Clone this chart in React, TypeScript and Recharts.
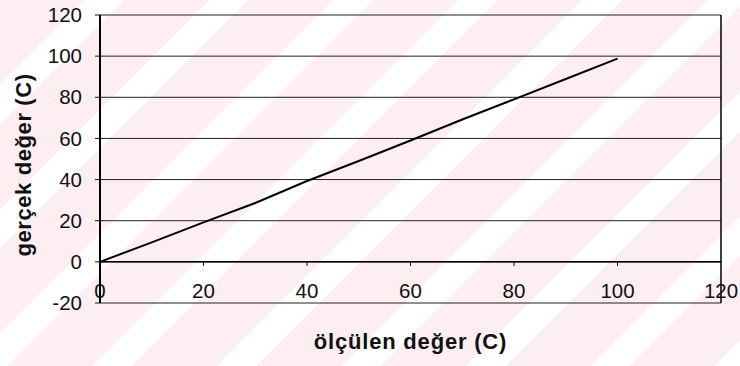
import React from "react";
import { LineChart, Line, XAxis, YAxis, CartesianGrid, ReferenceLine } from "recharts";

const measured = [0, 10, 20, 30, 40, 50, 60, 70, 80, 90, 100];
const actual = [0, 9.5, 19.2, 28.6, 39.3, 49, 59, 69.2, 79, 88.9, 98.8];
const xTicks = [0, 20, 40, 60, 80, 100, 120];
const yTicks = [-20, 0, 20, 40, 60, 80, 100, 120];
const xTitle = "ölçülen değer (C)";
const yTitle = "gerçek değer (C)";

const data = measured.map((m, i) => ({ m, a: actual[i] }));

const FONT = "'Liberation Sans', Arial, sans-serif";
const TICK_SIZE = 20.5;

const XTick = (props: any) => {
  const { x, y, payload } = props;
  return (
    <g>
      {payload.value > 0 && payload.value < 120 ? (
        <line x1={x} x2={x} y1={y - 41} y2={y - 37} stroke="#111" strokeWidth={1} />
      ) : null}
      <text x={x} y={y - 12} dy="0.35em" textAnchor="middle" fontSize={TICK_SIZE} fontFamily={FONT} fill="#111">
        {payload.value}
      </text>
    </g>
  );
};

const YTick = (props: any) => {
  const { x, y, payload } = props;
  return (
    <text x={x} y={y} dy="0.35em" textAnchor="end" fontSize={TICK_SIZE} fontFamily={FONT} fill="#111">
      {payload.value}
    </text>
  );
};

const XTitle = (props: any) => {
  const vb = props.viewBox;
  return (
    <text x={vb.x + vb.width / 2} y={vb.y + 38} dy="0.35em" textAnchor="middle" fontSize={22} fontWeight="bold" fontFamily={FONT} fill="#111" letterSpacing={0.8}>
      {xTitle}
    </text>
  );
};

const YTitle = (props: any) => {
  const vb = props.viewBox;
  const cx = vb.x + 13;
  const cy = vb.y + vb.height / 2 + 6;
  return (
    <text x={cx} y={cy} dy="0.35em" textAnchor="middle" fontSize={22} fontWeight="bold" fontFamily={FONT} fill="#111" letterSpacing={0.6} transform={`rotate(-90, ${cx}, ${cy})`}>
      {yTitle}
    </text>
  );
};

export default function App() {
  return (
    <div
      style={{
        position: "absolute",
        left: 0,
        top: 0,
        width: 740,
        height: 366,
        background: "repeating-linear-gradient(135deg, #fdeef1 0px, #fdeef1 60px, #ffffff 60px, #ffffff 88px)",
      }}
    >
      <LineChart width={740} height={366} data={data} margin={{ top: 15, right: 19, bottom: 13, left: 10 }}>
        <CartesianGrid horizontal vertical={false} stroke="#222" strokeWidth={1} />
        <XAxis
          dataKey="m"
          type="number"
          domain={[0, 120]}
          ticks={xTicks}
          interval={0}
          height={50}
          axisLine={false}
          tickLine={false}
          tickSize={0}
          tickMargin={0}
          tick={<XTick />}
          label={{ content: <XTitle /> }}
        />
        <YAxis
          type="number"
          domain={[-20, 120]}
          ticks={yTicks}
          interval={0}
          width={90}
          axisLine={{ stroke: "#000", strokeWidth: 2 }}
          tickLine={{ stroke: "#111" }}
          tickSize={5}
          tickMargin={13}
          tick={<YTick />}
          label={{ content: <YTitle /> }}
        />
        <ReferenceLine y={0} stroke="#000" strokeWidth={1.5} />
        <ReferenceLine x={120} stroke="#000" strokeWidth={1.5} />
        <Line type="linear" dataKey="a" stroke="#000" strokeWidth={2} dot={false} isAnimationActive={false} />
      </LineChart>
    </div>
  );
}
